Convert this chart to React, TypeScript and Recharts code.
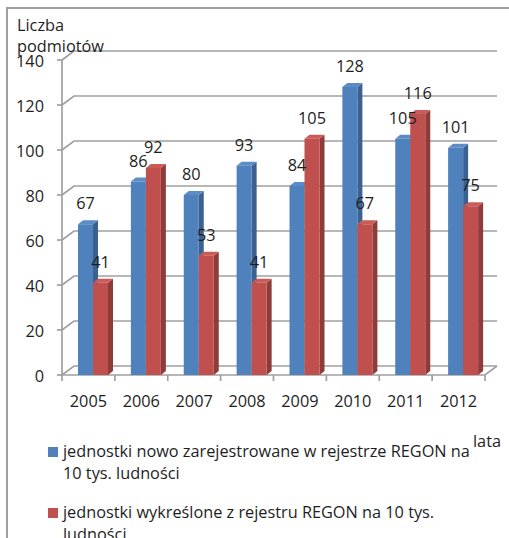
import React from 'react';
import { BarChart, Bar, XAxis, YAxis, CartesianGrid, LabelList, Legend } from 'recharts';

const years = ['2005', '2006', '2007', '2008', '2009', '2010', '2011', '2012'];
const registered = [67, 86, 80, 93, 84, 128, 105, 101];
const removed = [41, 92, 53, 41, 105, 67, 116, 75];
const yTicks = [0, 20, 40, 60, 80, 100, 120, 140];
const seriesNames = [
  'jednostki nowo zarejestrowane w rejestrze REGON na 10 tys. ludności',
  'jednostki wykreślone z rejestru REGON na 10 tys. ludności',
];

const data = years.map((y, i) => ({ year: y, registered: registered[i], removed: removed[i] }));

const W = 509;
const H = 538;
const MARGIN = { top: 60, right: 24, left: 12, bottom: 133 };
const Y_AXIS_W = 50;
const X_AXIS_H = 30;
const PLOT_LEFT = MARGIN.left + Y_AXIS_W;
const PLOT_RIGHT = W - MARGIN.right;
const PLOT_BOTTOM = H - MARGIN.bottom - X_AXIS_H;
const BAND = (PLOT_RIGHT - PLOT_LEFT) / years.length;
const DEPTH_X = 12;
const DEPTH_Y = 9;
const SHIFT = 5;
const BX = 5;
const BY = 4;
const FONT = '"Open Sans", sans-serif';
const FS = 16.3;
const GRID = '#a0a0a0';
const TEXT = '#1e1e1e';

const BLUE = { front: '#4f81bd', side: '#3b6190', top: '#5b8cc6' };
const RED = { front: '#c0504d', side: '#8e3b39', top: '#c95c59' };

const makeShape = (c: { front: string; side: string; top: string }) => (props: any) => {
  const { x, y, width, height } = props;
  if (width == null || height == null) return null;
  const X = x + SHIFT;
  const b = y + height;
  return (
    <g>
      <path d={`M${X + width} ${y} L${X + width + BX} ${y - BY} L${X + width + BX} ${b - BY} L${X + width} ${b} Z`} fill={c.side} />
      <path d={`M${X} ${y} L${X + BX} ${y - BY} L${X + width + BX} ${y - BY} L${X + width} ${y} Z`} fill={c.top} />
      <rect x={X} y={y} width={width} height={height} fill={c.front} />
    </g>
  );
};

const valueLabel = (props: any) => {
  const { x, y, width, value } = props;
  return (
    <text x={x + SHIFT + width / 2} y={y - 15} textAnchor="middle" fontFamily={FONT} fontSize={FS} fill={TEXT}>
      {value}
    </text>
  );
};

const gridLine = (props: any) => {
  const { x1, y1, x2 } = props;
  const isFloor = Math.abs(y1 - PLOT_BOTTOM) < 0.5;
  return (
    <g key={props.key}>
      <path
        d={`M${x1} ${y1} L${x1 + DEPTH_X} ${y1 - DEPTH_Y} L${x2 + DEPTH_X} ${y1 - DEPTH_Y}`}
        stroke={GRID}
        strokeWidth={1.7}
        fill="none"
      />
      {isFloor && (
        <path d={`M${x1} ${y1} L${x2} ${y1} L${x2 + DEPTH_X} ${y1 - DEPTH_Y}`} stroke={GRID} strokeWidth={1.7} fill="none" />
      )}
    </g>
  );
};

const XTick = (props: any) => {
  const { x, payload, index } = props;
  const half = payload && payload.offset ? payload.offset : BAND / 2;
  const top = PLOT_BOTTOM;
  return (
    <g>
      <line x1={x - half} y1={top} x2={x - half} y2={top + 6} stroke={GRID} strokeWidth={1.7} />
      {index === years.length - 1 && (
        <line x1={x + half} y1={top} x2={x + half} y2={top + 6} stroke={GRID} strokeWidth={1.7} />
      )}
      <text x={x} y={top + 32} textAnchor="middle" fontFamily={FONT} fontSize={FS} fill={TEXT}>
        {payload.value}
      </text>
    </g>
  );
};

const YTick = (props: any) => {
  const { y, payload } = props;
  return (
    <text x={PLOT_LEFT - 18} y={y + 1} dy={6} textAnchor="end" fontFamily={FONT} fontSize={FS} fill={TEXT}>
      {payload.value}
    </text>
  );
};

const LegendContent = (props: any) => {
  const { payload } = props;
  const colors = [BLUE.front, RED.front];
  return (
    <div style={{ fontFamily: FONT, fontSize: FS, color: TEXT, lineHeight: '22px' }}>
      {(payload || []).map((p: any, i: number) => (
        <div key={i} style={{ display: 'flex', alignItems: 'flex-start', marginBottom: 17 }}>
          <span
            style={{ width: 10, height: 10, background: colors[i], marginTop: 7, marginRight: 5, flex: '0 0 auto' }}
          />
          <span style={{ width: 418 }}>{p.value}</span>
        </div>
      ))}
    </div>
  );
};

export default function App() {
  return (
    <div style={{ position: 'absolute', left: 0, top: 0, width: W, height: H, overflow: 'hidden', background: '#fff' }}>
      <div
        style={{
          position: 'absolute',
          left: 6,
          top: 7,
          width: W,
          height: H,
          borderLeft: '2px solid #a0a0a0',
          borderTop: '2px solid #a0a0a0',
        }}
      />
      <div
        style={{
          position: 'absolute',
          left: 17,
          top: 15,
          fontFamily: FONT,
          fontSize: FS,
          lineHeight: '21px',
          color: TEXT,
          zIndex: 2,
        }}
      >
        Liczba
        <br />
        podmiotów
      </div>
      <div style={{ position: 'absolute', left: 473, top: 430, fontFamily: FONT, fontSize: FS, color: TEXT, zIndex: 2 }}>
        lata
      </div>
      <BarChart width={W} height={H} data={data} margin={MARGIN} barSize={15} barGap={0}>
        <CartesianGrid vertical={false} horizontal={gridLine} />
        <XAxis dataKey="year" height={X_AXIS_H} axisLine={false} tickLine={false} tick={XTick} interval={0} />
        <YAxis
          width={Y_AXIS_W}
          domain={[0, 140]}
          ticks={yTicks}
          tickSize={5}
          axisLine={{ stroke: GRID, strokeWidth: 1.7 }}
          tickLine={{ stroke: GRID, strokeWidth: 1.7 }}
          tick={YTick}
        />
        <Legend
          layout="vertical"
          align="center"
          verticalAlign="middle"
          content={LegendContent}
          wrapperStyle={{ position: 'absolute', left: 48, top: 440, width: 445 }}
        />
        <Bar dataKey="registered" name={seriesNames[0]} fill={BLUE.front} shape={makeShape(BLUE)} isAnimationActive={false}>
          <LabelList dataKey="registered" content={valueLabel} />
        </Bar>
        <Bar dataKey="removed" name={seriesNames[1]} fill={RED.front} shape={makeShape(RED)} isAnimationActive={false}>
          <LabelList dataKey="removed" content={valueLabel} />
        </Bar>
      </BarChart>
    </div>
  );
}
